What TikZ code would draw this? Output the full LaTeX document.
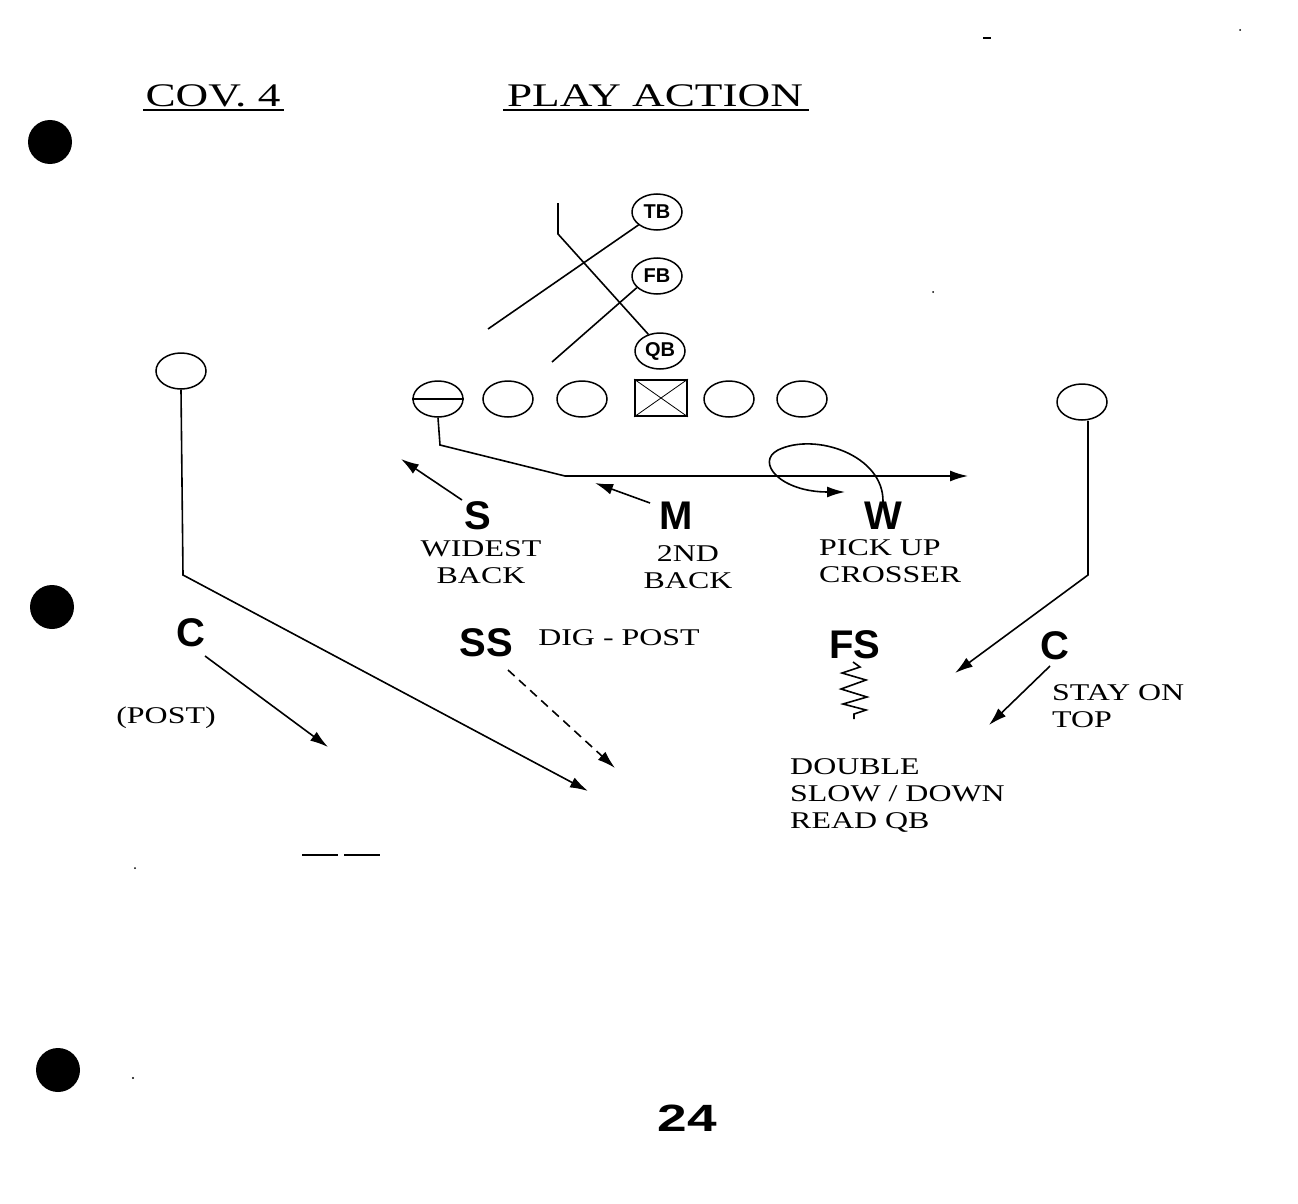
\documentclass[tikz,border=0pt]{standalone}
\usepackage{fontspec}
\setmainfont{Liberation Serif}
\newfontfamily\lsans{Liberation Sans}
\usetikzlibrary{arrows.meta,shapes.geometric}
\newcommand{\wtext}[2][1.33]{\scalebox{#1}[1]{#2}}
\begin{document}
\begin{tikzpicture}[x=1pt,y=-1pt,
 player/.style={draw,ellipse,line width=1.5pt,minimum width=50pt,minimum height=36pt,inner sep=0pt},
 bk/.style={draw,ellipse,line width=1.5pt,minimum width=50pt,minimum height=36pt,inner sep=0pt,font=\lsans\bfseries\fontsize{20}{20}\selectfont},
 def/.style={font=\lsans\bfseries\fontsize{40}{40}\selectfont,inner sep=0pt},
 lbl/.style={font=\fontsize{24}{27}\selectfont,inner sep=0pt,align=left},
 ttl/.style={font=\fontsize{33}{33}\selectfont,inner sep=0pt},
 route/.style={line width=1.6pt},
 arr/.style={route,-{Latex[length=18pt,width=11pt]}},
 hole/.style={fill=black,circle,minimum size=44pt,inner sep=0pt},
 speck/.style={line width=1.2pt}
]
\useasboundingbox (0,0) rectangle (1298,1204);
\fill[white] (0,0) rectangle (1298,1204);

% punch holes
\node[hole] (h1) at (50,142) {};
\node[hole] (h2) at (52,607) {};
\node[hole] (h3) at (58,1070) {};

% titles
\node[ttl] (cov) at (213,96) {\wtext[1.37]{COV. 4}};
\draw[line width=1.6pt] (143,110) -- (284,110);
\node[ttl] (pa) at (655,96) {\wtext[1.37]{PLAY ACTION}};
\draw[line width=1.6pt] (503,110) -- (809,110);

% backs
\node[bk] (tb) at (657,212) {TB};
\node[bk] (fb) at (657,276) {FB};
\node[bk] (qb) at (660,351) {QB};

% offensive line
\node[player] (l1) at (438,399) {};
\draw[line width=1.5pt] (l1.west) -- (l1.east);
\node[player] (l2) at (508,399) {};
\node[player] (l3) at (582,399) {};
\node[draw,line width=1.8pt,minimum width=52pt,minimum height=36pt,inner sep=0pt] (ctr) at (661,398) {};
\draw[line width=0.8pt] (ctr.north west) -- (ctr.south east) (ctr.north east) -- (ctr.south west);
\node[player] (l5) at (729,399) {};
\node[player] (l6) at (802,399) {};

% receivers
\node[player] (wrl) at (181,371) {};
\node[player] (wrr) at (1082,402) {};

% backfield action lines
\coordinate (tbend) at (488,329);
\coordinate (fbend) at (552,362);
\coordinate (qbtop) at (558,203);
\coordinate (qbk) at (558,234);
\draw[route] (tb.-145) -- (tbend);
\draw[route] (fb.-150) -- (fbend);
\draw[route] (qb.125) -- (qbk) -- (qbtop);

% crossing route
\coordinate (x1) at (440,445);
\coordinate (x2) at (565,476);
\coordinate (xend) at (968,476);
\draw[arr] (l1.south) -- (x1) -- (x2) -- (xend);

% defenders
\node[def] (S) at (478,516) {S};
\node[def] (M) at (676,516) {M};
\node[def] (W) at (883,516) {W};
\node[def] (SS) at (486,643) {SS};
\node[def] (FS) at (855,645) {FS};
\node[def] (CL) at (191,633) {C};
\node[def] (CR) at (1055,646) {C};

% defender labels
\node[lbl,align=center] (sl) at (481,565) {\wtext{\begin{tabular}{@{}c@{}}WIDEST\\BACK\end{tabular}}};
\node[lbl,align=center] (ml) at (688,570) {\wtext{\begin{tabular}{@{}c@{}}2ND\\BACK\end{tabular}}};
\node[lbl,anchor=west] (wl) at (819,564) {\wtext{\begin{tabular}{@{}l@{}}PICK UP\\CROSSER\end{tabular}}};
\node[lbl] (ssl) at (619,638) {\wtext{DIG - POST}};
\node[lbl] (cll) at (166,718) {\wtext{(POST)}};
\node[lbl,anchor=west] (crl) at (1052,709) {\wtext{\begin{tabular}{@{}l@{}}STAY ON\\TOP\end{tabular}}};
\node[lbl,anchor=west] (fsl) at (790,796) {\wtext{\begin{tabular}{@{}l@{}}DOUBLE\\SLOW / DOWN\\READ QB\end{tabular}}};

% linebacker drops
\coordinate (sdrop) at (401,459);
\coordinate (mdrop) at (595,483);
\coordinate (wdrop) at (845,492);
\draw[arr] (462,500) -- (sdrop);
\draw[arr] (650,503) -- (mdrop);
\draw[arr] (W.north) .. controls (884,455) and (815,432) .. (778,450) .. controls (755,462) and (780,492) .. (wdrop);

% receiver routes
\coordinate (wrlk) at (183,575);
\coordinate (wrlend) at (588,791);
\draw[arr] (wrl.south) -- (wrlk) -- (wrlend);
\coordinate (wrrk) at (1088,575);
\coordinate (wrrend) at (955,673);
\draw[arr] (wrr.south -| 1088,0) -- (wrrk) -- (wrrend);

% secondary
\coordinate (clend) at (328,747);
\draw[arr] (205,656) -- (clend);
\coordinate (ssend) at (615,768);
\draw[arr,dashed,dash pattern=on 9pt off 6pt] (508,670) -- (ssend);
\coordinate (crend) at (989,725);
\draw[arr] (1050,666) -- (crend);
\draw[line width=1.6pt,line join=miter] (853,662) -- (860,667) -- (842,673) -- (866,680) -- (841,689) -- (867,697) -- (843,704) -- (866,710) -- (854,714) -- (854,719);

% page number
\node[font=\lsans\bfseries\fontsize{38}{38}\selectfont,inner sep=0pt] (pg) at (687,1118) {\wtext[1.4]{24}};

% scan specks
\draw[speck] (983,38) -- (991,38);
\fill (1240,30) circle (1pt);
\fill (933,292) circle (1pt);
\draw[speck] (302,855) -- (338,855) (344,855) -- (380,855);
\fill (135,868) circle (1pt);
\fill (133,1078) circle (1.2pt);
\end{tikzpicture}
\end{document}
